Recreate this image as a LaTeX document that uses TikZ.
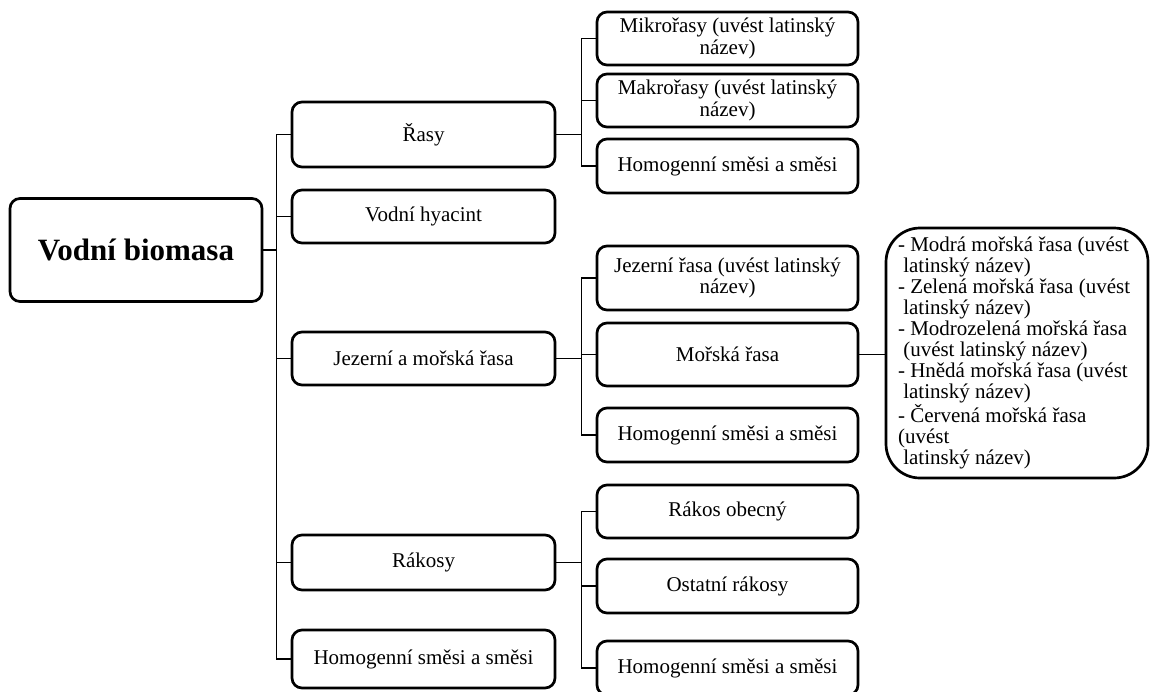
\documentclass[tikz,border=0pt]{standalone}
\usepackage{fontspec}
\setmainfont{Liberation Serif}
\begin{document}
\begin{tikzpicture}[x=0.5pt,y=-0.5pt,
  box/.style={draw, line width=1.35pt, rounded corners=5pt, align=center,
    font=\fontsize{10.5pt}{10.6pt}\selectfont, inner sep=0pt},
  lone/.style={box, minimum width=131.5pt},
  ltwo/.style={box, minimum width=130.5pt},
  conn/.style={line width=0.6pt}]
\useasboundingbox (0,0) rectangle (1150,691);
\clip (0,0) rectangle (1150,691);
% root
\node[box, minimum width=126pt, minimum height=51.5pt,
  font=\fontsize{15.5pt}{18pt}\bfseries\selectfont] (root) at (136,250) {Vodní biomasa};
% level 1
\node[lone, minimum height=32.5pt] (rasy) at (423.5,134.5) {Řasy};
\node[lone, minimum height=26.5pt] (hyac) at (423.5,216.5) {Vodní hyacint};
\node[lone, minimum height=26.5pt] (jez) at (423.5,358.5) {Jezerní a mořská řasa};
\node[lone, minimum height=27.5pt] (rak) at (423.5,562.5) {Rákosy};
\node[lone, minimum height=29pt] (homa) at (423.5,659) {Homogenní směsi a směsi};
% level 2
\node[ltwo, minimum height=26.5pt] (mikro) at (727.5,38.5) {Mikrořasy (uvést latinský\\název)};
\node[ltwo, minimum height=26.5pt] (makro) at (727.5,100.5) {Makrořasy (uvést latinský\\název)};
\node[ltwo, minimum height=27pt] (homb) at (727.5,166) {Homogenní směsi a směsi};
\node[ltwo, minimum height=32pt] (jezr) at (727.5,278) {Jezerní řasa (uvést latinský\\název)};
\node[ltwo, minimum height=31.5pt] (morska) at (727.5,354.5) {Mořská řasa};
\node[ltwo, minimum height=27pt] (homc) at (727.5,435) {Homogenní směsi a směsi};
\node[ltwo, minimum height=26.5pt] (rakob) at (727.5,511.5) {Rákos obecný};
\node[ltwo, minimum height=27pt] (ostat) at (727.5,586) {Ostatní rákosy};
\node[ltwo, minimum height=27pt] (homd) at (727.5,668) {Homogenní směsi a směsi};
% big list box
\node[box, rounded corners=17pt, minimum width=131pt, minimum height=125pt,
  text width=119pt, align=flush left, font=\fontsize{10.5pt}{10.45pt}\selectfont] (big) at (1017,353)
  {- Modrá mořská řasa (uvést\\
   \hspace*{0.25em}latinský název)\\
   - Zelená mořská řasa (uvést\\
   \hspace*{0.25em}latinský název)\\
   - Modrozelená mořská řasa\\
   \hspace*{0.25em}(uvést latinský název)\\
   - Hnědá mořská řasa (uvést\\
   \hspace*{0.25em}latinský název)\\
   - Červená mořská řasa\\
   (uvést\\
   \hspace*{0.25em}latinský název)};
% connectors
\foreach \c in {rasy,hyac,jez,rak,homa}
  \draw[conn] (root.east) -- ++(13,0) |- (\c.west);
\foreach \c in {mikro,makro,homb}
  \draw[conn] (rasy.east) -- ++(25.5,0) |- (\c.west);
\foreach \c in {jezr,morska,homc}
  \draw[conn] (jez.east) -- ++(25.5,0) |- (\c.west);
\foreach \c in {rakob,ostat,homd}
  \draw[conn] (rak.east) -- ++(25.5,0) |- (\c.west);
\draw[conn] (morska.east) -- (morska.east -| big.west);
\end{tikzpicture}
\end{document}
